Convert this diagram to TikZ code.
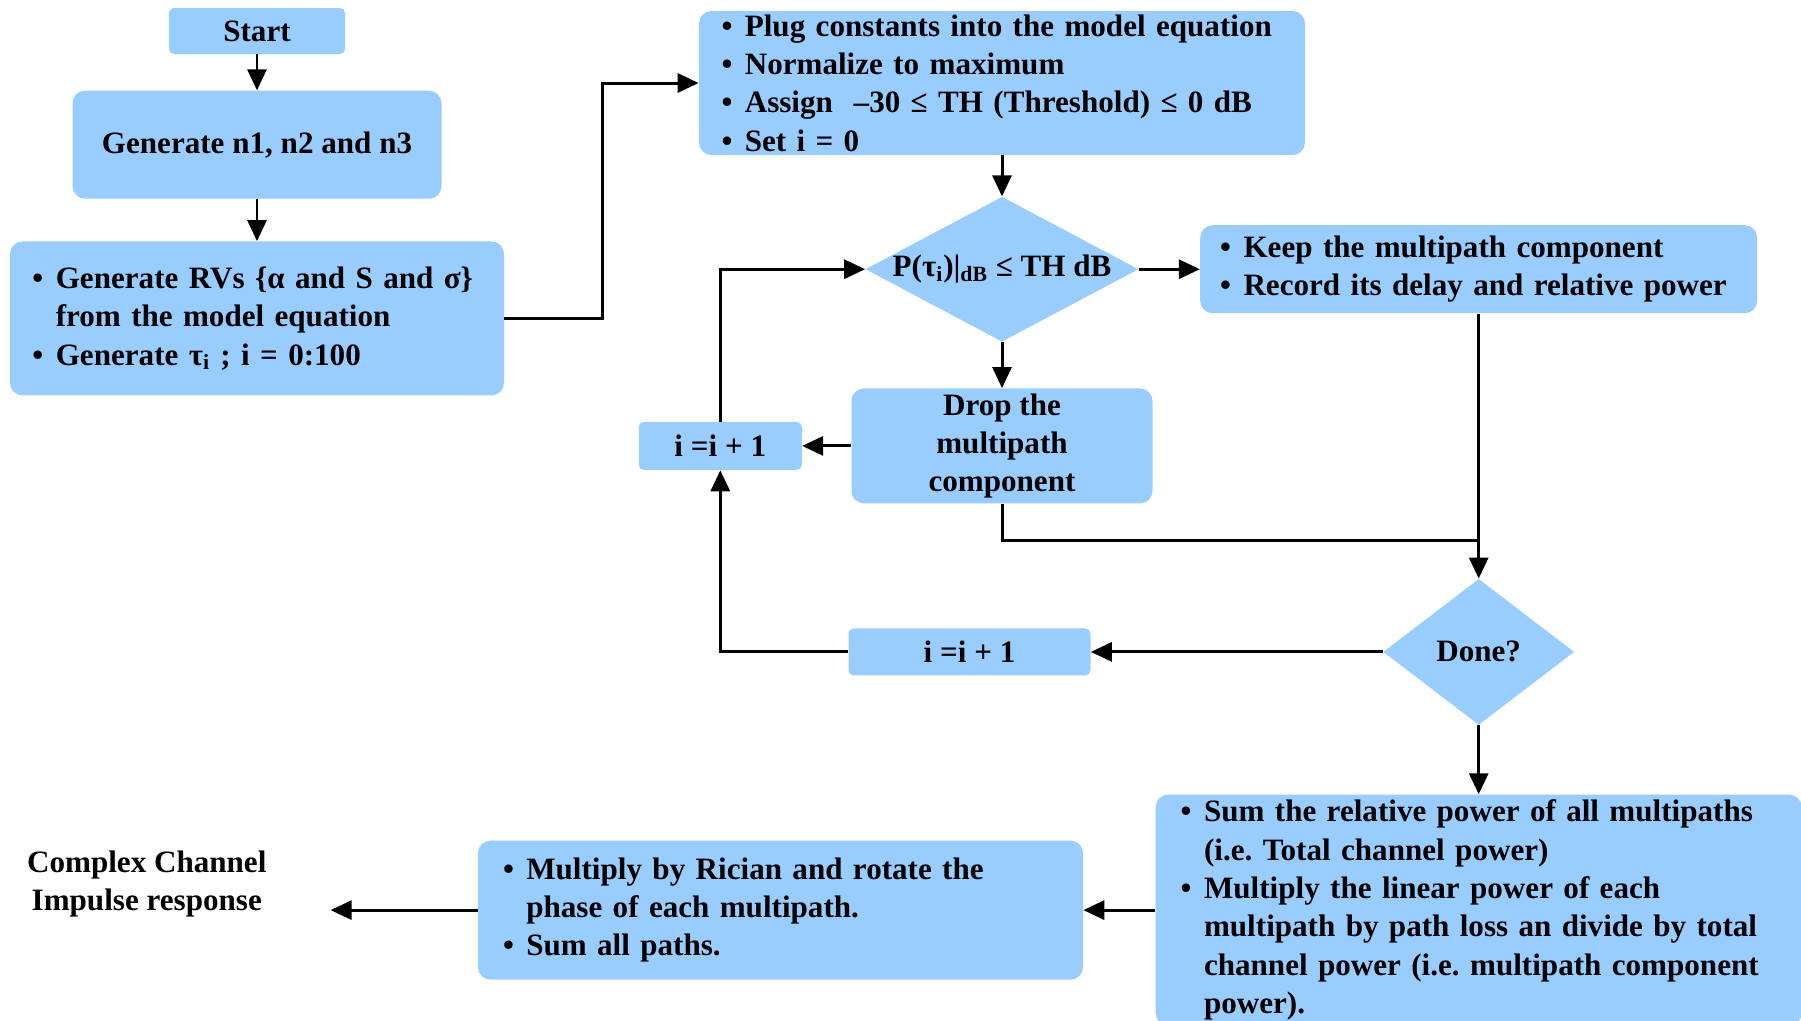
\documentclass[tikz,border=0pt]{standalone}
\usepackage{fontspec}
\setmainfont{Liberation Serif}
\usetikzlibrary{arrows.meta, positioning, shapes.geometric}
\definecolor{boxblue}{RGB}{153,204,255}
\newcommand{\bl}{\makebox[0.75em][l]{\textbullet}}
\newcommand{\ind}{\hspace*{0.75em}}

\begin{document}
\begin{tikzpicture}[>={Triangle[length=0.42cm,width=0.38cm]},
  every node/.style={font=\fontsize{17.7}{21.8}\selectfont\bfseries\frenchspacing},
  box/.style={fill=boxblue,rounded corners=0.25cm,inner sep=0pt,align=center},
  listbox/.style={fill=boxblue,rounded corners=0.25cm,inner ysep=0pt,align=left},
  dec/.style={diamond,fill=boxblue,inner sep=0pt},
  line/.style={line width=1.7pt},
  arr/.style={line width=1.7pt,->}]
  \useasboundingbox (0,0) rectangle (36.02,-20.4);

  % left column
  \node[box,rounded corners=0.1cm,minimum width=3.52cm,minimum height=0.92cm]
    (start) at (5.14,-0.62) {Start};
  \node[box,minimum width=7.38cm,minimum height=2.16cm,below=0.72cm of start]
    (gen) {Generate n1, n2 and n3};
  \node[listbox,inner xsep=0.45cm,text width=8.98cm,minimum height=3.08cm,
        below=0.84cm of gen] (rvs)
    {\bl Generate RVs \{α and S and σ\}\\
     \ind from the model equation\\
     \bl Generate τ\textsubscript{i} ; i = 0:100};

  % threshold loop
  \node[listbox,inner xsep=0.45cm,text width=11.22cm,minimum height=2.88cm]
    (plug) at (20.04,-1.66)
    {\bl Plug constants into the model equation\\
     \bl Normalize to maximum\\
     \bl Assign\ \ –30 ≤ TH (Threshold) ≤ 0 dB\\
     \bl Set i = 0};
  \node[dec,aspect=1.88,minimum width=5.46cm,minimum height=2.9cm,
        below=0.82cm of plug] (test)
    {P(τ\textsubscript{i})|\textsubscript{dB} ≤ TH dB};
  \node[listbox,inner xsep=0.4cm,text width=10.34cm,minimum height=1.76cm,
        right=1.22cm of test] (keep)
    {\bl Keep the multipath component\\
     \bl Record its delay and relative power};
  \node[box,minimum width=6.02cm,minimum height=2.3cm,below=0.92cm of test]
    (drop) {Drop the\\multipath\\component};
  \node[box,rounded corners=0.1cm,minimum width=3.26cm,minimum height=0.96cm,
        left=0.98cm of drop] (inca) {i =i + 1};
  \node[dec,aspect=1.31,minimum width=3.82cm,minimum height=2.92cm,
        below=5.3cm of keep] (done) {Done?};
  \node[box,rounded corners=0.1cm,minimum width=4.84cm,minimum height=0.94cm,
        left=5.84cm of done] (incb) {i =i + 1};

  % output
  \node[listbox,inner xsep=0.5cm,text width=11.92cm,minimum height=4.62cm,
        below=1.38cm of done] (sum)
    {\bl Sum the relative power of all multipaths\\
     \ind (i.e. Total channel power)\\
     \bl Multiply the linear power of each\\
     \ind multipath by path loss an divide by total\\
     \ind channel power (i.e. multipath component\\
     \ind power).};
  \node[listbox,inner xsep=0.5cm,text width=11.1cm,minimum height=2.78cm,
        left=1.44cm of sum] (rician)
    {\bl Multiply by Rician and rotate the\\
     \ind phase of each multipath.\\
     \bl Sum all paths.};
  \coordinate[left=2.94cm of rician.west] (cir);
  \node[align=center,left=1.16cm of cir,yshift=0.52cm] (out)
    {Complex Channel\\Impulse response};

  % connectors
  \draw[arr] (start) -- (gen);
  \draw[arr] (gen) -- (rvs);
  \draw[arr] (rvs.east) -- ++(1.96,0) |- (plug.west);
  \draw[arr] (plug) -- (test);
  \draw[arr] (test) -- (keep);
  \draw[arr] (test) -- (drop);
  \draw[arr] (drop) -- (inca);
  \draw[arr] (inca) |- (test.west);
  \coordinate (join) at (keep.south |- 0,-10.8);
  \draw[line] (drop) |- (join);
  \draw[arr] (keep) -- (done);
  \draw[arr] (done) -- (incb);
  \draw[arr] (incb) -| (inca);
  \draw[arr] (done) -- (sum);
  \draw[arr] (sum.west |- rician.east) -- (rician);
  \draw[arr] (rician) -- (cir);
\end{tikzpicture}
\end{document}
